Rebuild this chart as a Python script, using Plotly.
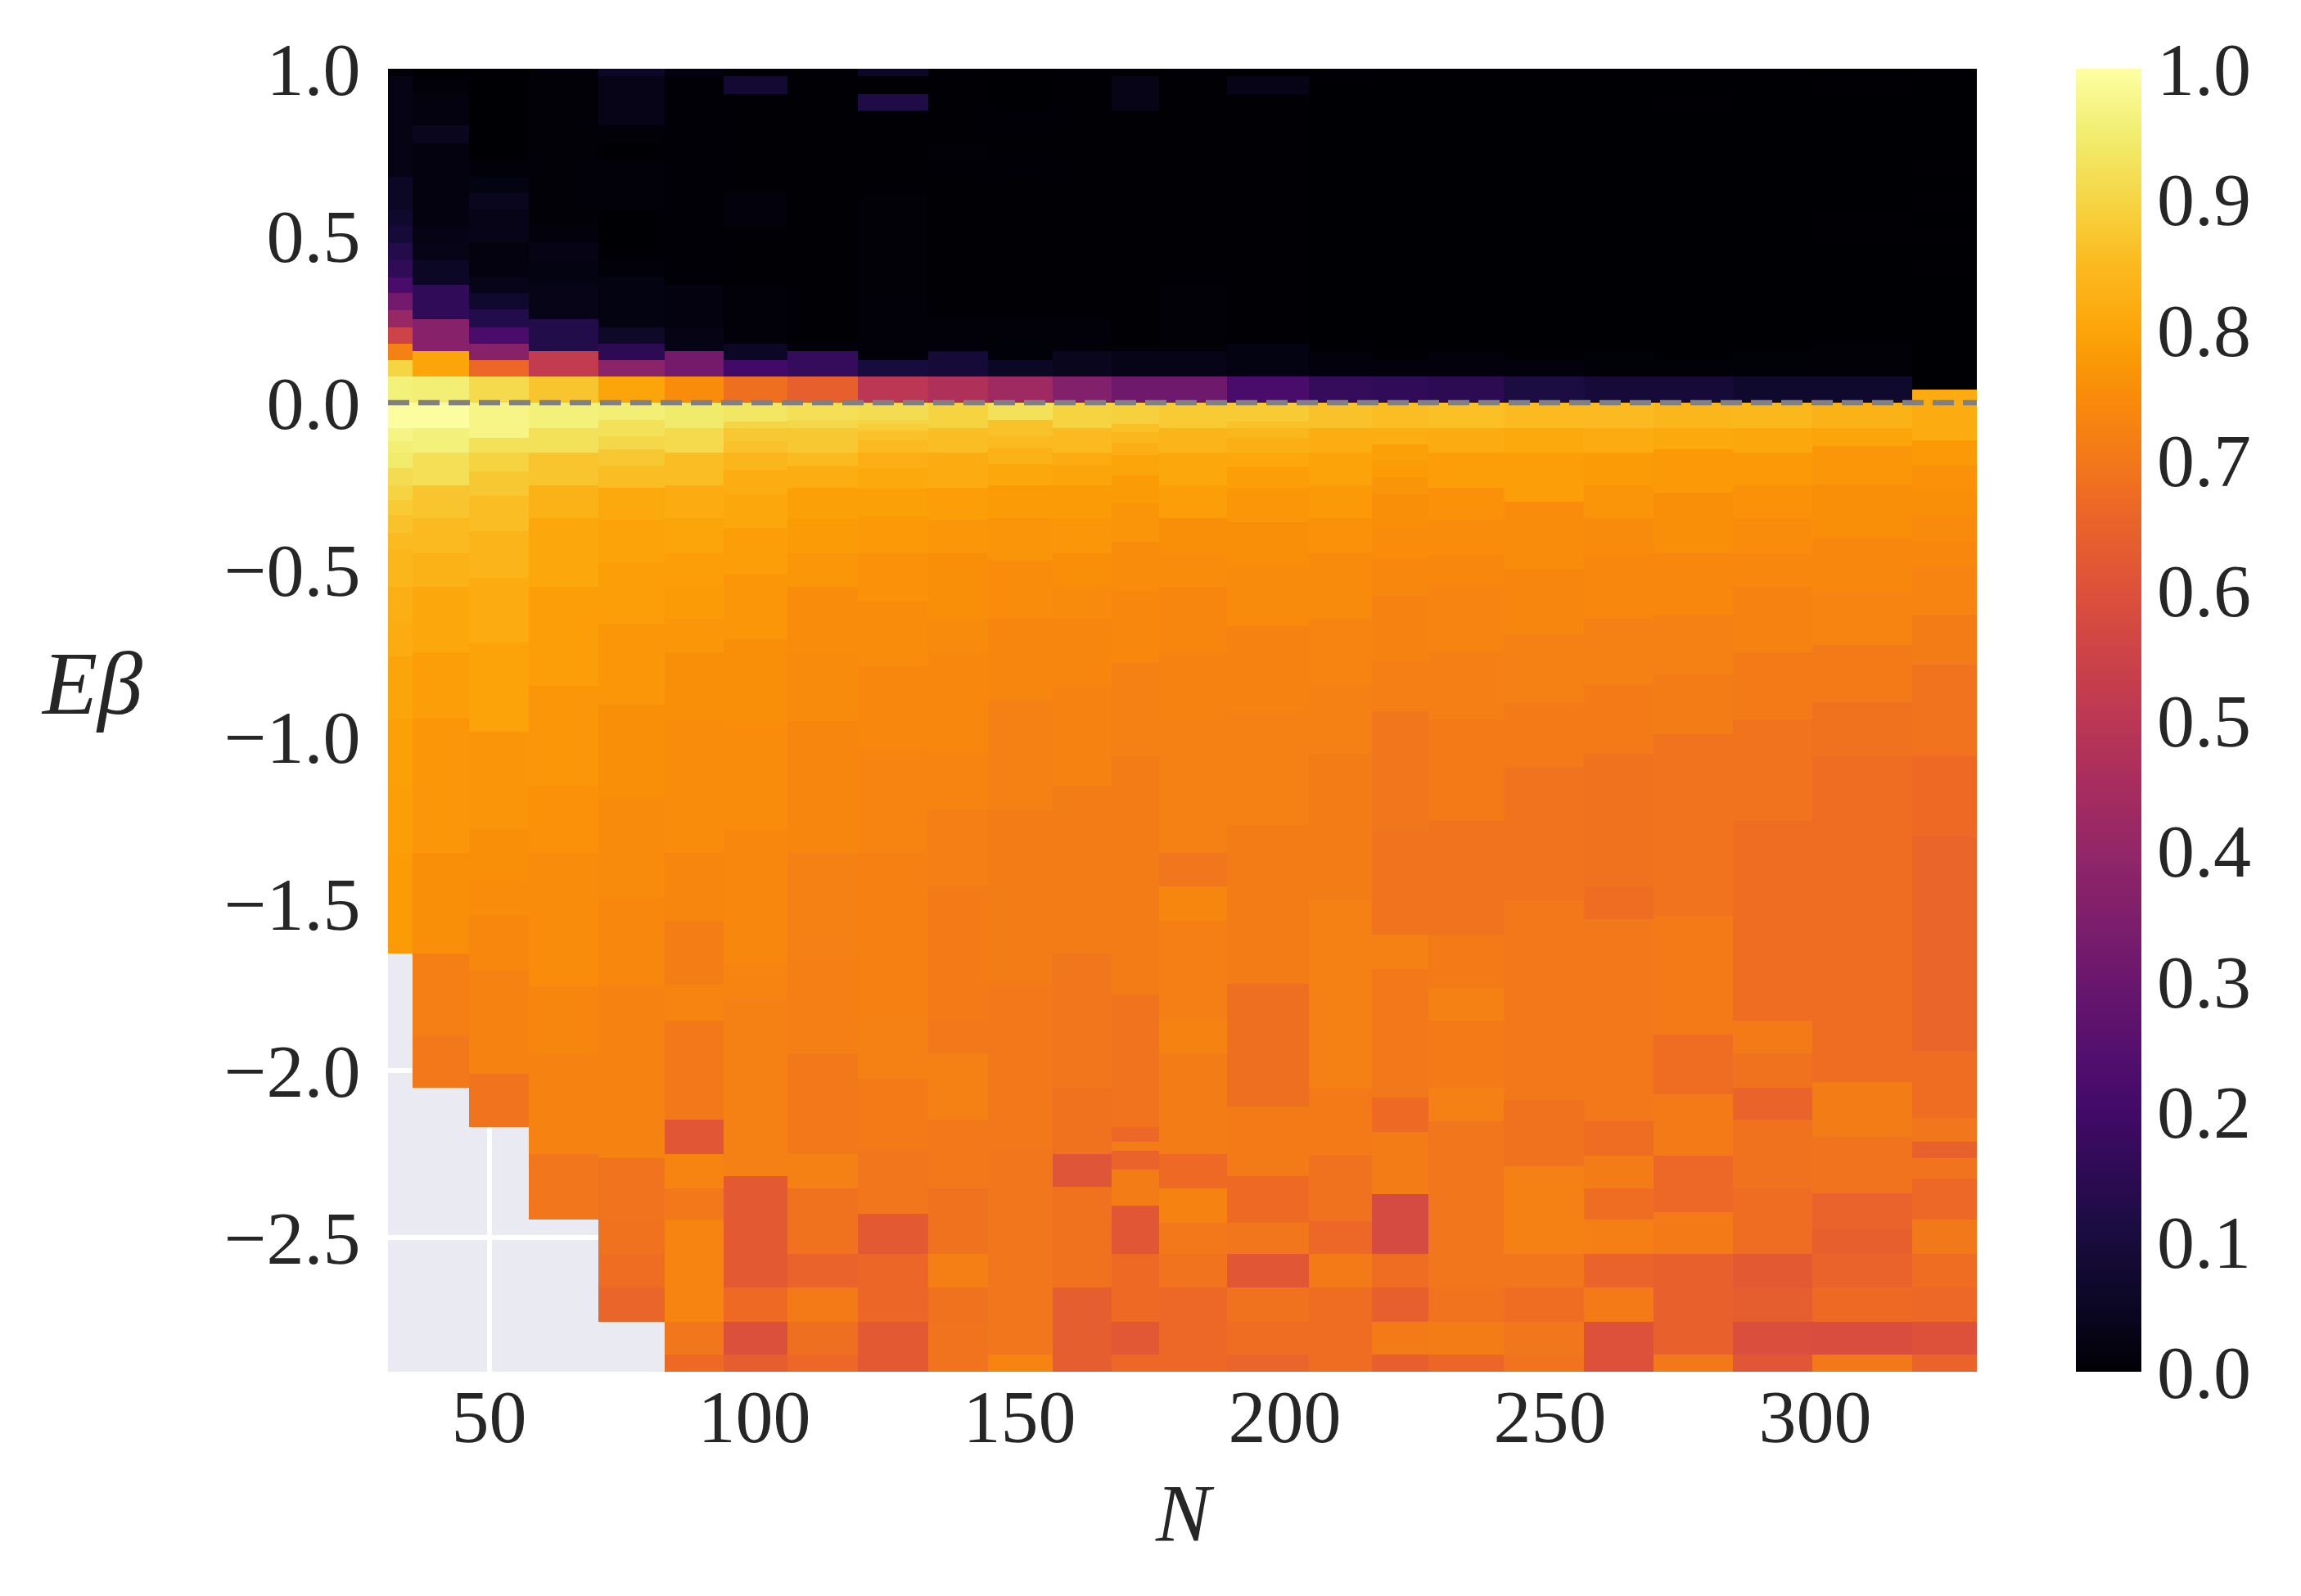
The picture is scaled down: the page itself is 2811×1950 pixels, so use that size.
'''
Heatmap of the normalised quantity against N and E*beta; each N bin has its own energy bins.
'''

import plotly.graph_objects as go

# Bin edges along N
n_edges = [30.93, 35.63, 46.2, 57.47, 70.59, 83.09, 94.2, 106.16, 119.5, 132.78, 144.12, 156.16, 167.27,
           176.3, 189.03, 204.54, 216.42, 227.07, 241.19, 256.39, 269.43, 284.48, 299.37, 318.27, 330.46]

# Energy bin edges for each N bin, top to bottom
e_edges = [
    [1,.978,.676,.578,.529,.477,.427,.375,.329,.278,.226,.177,.127,.079,0,-.076,-.115,-.15,-.197,-.249,-.293,-.337,-.389,-.442,-.552,-.66,-.761,-.946,-1.147,-1.348,-1.65],
    [1,.978,.925,.831,.778,.529,.48,.427,.353,.251,.153,.079,0,-.076,-.15,-.249,-.346,-.451,-.552,-.749,-.946,-1.348,-1.65,-1.899,-2.053],
    [1,.729,.676,.627,.578,.48,.378,.329,.28,.226,.177,.127,.079,0,-.105,-.15,-.205,-.28,-.385,-.525,-.718,-.985,-1.278,-1.436,-1.537,-1.702,-2.011,-2.171],
    [1,.529,.48,.427,.353,.251,.153,.079,0,-.076,-.15,-.249,-.346,-.552,-.849,-1.147,-1.348,-1.748,-1.95,-2.25,-2.448],
    [1,.978,.831,.778,.729,.578,.427,.378,.226,.177,.127,.079,0,-.051,-.101,-.139,-.188,-.254,-.35,-.481,-.661,-.906,-1.186,-1.48,-1.744,-2.264,-2.448,-2.551,-2.65,-2.753],
    [1,.978,.353,.226,.153,.079,0,-.076,-.15,-.249,-.346,-.451,-.552,-.648,-.749,-.95,-1.348,-1.551,-1.744,-1.852,-2.147,-2.25,-2.354,-2.448,-2.753,-2.851,-2.903],
    [1,.978,.925,.627,.529,.353,.177,.127,.079,0,-.056,-.076,-.115,-.15,-.201,-.276,-.376,-.516,-.709,-.972,-1.278,-1.683,-1.786,-2.316,-2.65,-2.753,-2.851,-2.903],
    [1,.177,.153,.079,0,-.051,-.076,-.15,-.19,-.254,-.346,-.451,-.552,-.749,-.954,-1.348,-1.65,-1.95,-2.25,-2.354,-2.551,-2.65,-2.753,-2.851,-2.903],
    [1,.978,.925,.876,.627,.275,.128,.079,0,-.051,-.064,-.084,-.113,-.15,-.197,-.258,-.341,-.451,-.595,-.788,-1.042,-1.348,-1.852,-2.025,-2.236,-2.429,-2.551,-2.753,-2.903],
    [1,.778,.729,.251,.153,.079,0,-.076,-.15,-.254,-.35,-.451,-.648,-.749,-1.051,-1.221,-1.449,-1.852,-1.95,-2.147,-2.354,-2.551,-2.65,-2.753,-2.903],
    [1,.876,.831,.729,.676,.251,.177,.127,.079,0,-.051,-.101,-.134,-.183,-.249,-.346,-.473,-.648,-.893,-1.221,-1.744,-2.232,-2.851,-2.903],
    [1,.251,.153,.079,0,-.076,-.15,-.19,-.249,-.346,-.451,-.552,-.648,-.845,-1.147,-1.65,-2.053,-2.25,-2.349,-2.65,-2.903],
    [1,.978,.876,.177,.153,.079,0,-.064,-.088,-.121,-.158,-.219,-.302,-.416,-.565,-.779,-1.06,-1.772,-2.171,-2.213,-2.241,-2.297,-2.406,-2.551,-2.753,-2.851,-2.903],
    [1,.353,.153,.079,0,-.076,-.15,-.249,-.346,-.451,-.552,-.749,-.95,-1.348,-1.449,-1.551,-1.852,-1.95,-2.25,-2.354,-2.458,-2.551,-2.65,-2.903],
    [1,.978,.925,.353,.177,.079,0,-.056,-.076,-.105,-.15,-.192,-.258,-.358,-.494,-.67,-.924,-1.265,-1.741,-2.109,-2.316,-2.458,-2.551,-2.65,-2.753,-2.851,-2.903],
    [1,.955,.153,.079,0,-.076,-.15,-.249,-.346,-.451,-.648,-.845,-1.051,-1.49,-2.053,-2.255,-2.452,-2.551,-2.65,-2.753,-2.903],
    [1,.153,.127,.079,0,-.076,-.125,-.175,-.223,-.276,-.376,-.468,-.578,-.775,-.924,-1.283,-1.593,-1.697,-2.082,-2.185,-2.372,-2.551,-2.65,-2.753,-2.851,-2.903],
    [1,.153,.079,0,-.076,-.15,-.254,-.35,-.455,-.552,-.749,-.95,-1.252,-1.593,-1.753,-1.852,-2.053,-2.152,-2.65,-2.753,-2.851,-2.903],
    [1,.153,.127,.079,0,-.076,-.15,-.297,-.499,-.696,-.897,-1.094,-1.49,-2.09,-2.288,-2.551,-2.65,-2.753,-2.851,-2.903],
    [1,.153,.079,0,-.076,-.15,-.249,-.346,-.451,-.648,-.845,-1.051,-1.449,-1.547,-2.152,-2.255,-2.354,-2.448,-2.551,-2.65,-2.753,-2.903],
    [1,.925,.876,.127,.079,0,-.076,-.141,-.271,-.451,-.635,-.814,-.994,-1.537,-1.894,-2.072,-2.255,-2.424,-2.551,-2.851,-2.903],
    [1,.153,.079,0,-.076,-.15,-.249,-.346,-.451,-.552,-.749,-.95,-1.252,-1.852,-1.95,-2.053,-2.147,-2.354,-2.551,-2.65,-2.753,-2.851,-2.903],
    [1,.978,.925,.578,.48,.177,.079,0,-.076,-.129,-.245,-.407,-.569,-.727,-.897,-1.059,-2.035,-2.199,-2.368,-2.476,-2.551,-2.65,-2.753,-2.851,-2.903],
    [1,.729,.676,.627,.578,.529,.48,.427,.378,.04,-.113,-.188,-.258,-.341,-.416,-.49,-.635,-.784,-1.059,-1.3,-1.941,-2.142,-2.213,-2.264,-2.325,-2.448,-2.551,-2.65,-2.753,-2.851,-2.903],
]

# Value in each of those bins, top to bottom
values = [
    [.005,.025,.05,.07,.09,.13,.16,.22,.32,.41,.55,.72,.90,.96,.995,.97,.955,.945,.915,.895,.88,.865,.85,.84,.825,.815,.80,.79,.785,.78],
    [0,.01,.015,.04,.015,.025,.03,.05,.16,.37,.80,.955,.995,.96,.92,.87,.85,.83,.805,.785,.77,.755,.715,.70],
    [0,.01,.02,.04,.03,.015,.03,.07,.13,.22,.37,.66,.91,.972,.925,.895,.875,.855,.835,.815,.795,.765,.755,.75,.738,.725,.69],
    [.005,.012,.025,.02,.03,.13,.52,.87,.96,.925,.87,.83,.805,.785,.77,.76,.75,.735,.725,.695],
    [.05,.03,.005,0,.008,0,.01,.02,.06,.15,.38,.80,.955,.925,.905,.875,.855,.81,.795,.785,.77,.755,.745,.74,.725,.69,.685,.675,.655],
    [.015,.003,.015,.025,.32,.75,.945,.91,.855,.815,.80,.785,.78,.77,.755,.75,.735,.712,.73,.70,.615,.73,.70,.73,.695,.67],
    [.005,.08,.002,.012,.002,.01,.05,.2,.68,.935,.9,.875,.865,.84,.82,.805,.785,.77,.755,.75,.74,.73,.72,.625,.67,.595,.635],
    [.002,.012,.17,.64,.92,.905,.875,.85,.82,.79,.78,.77,.75,.745,.735,.72,.715,.70,.72,.685,.65,.705,.68,.665],
    [.05,.002,.12,.002,.004,.01,.1,.5,.915,.9,.885,.865,.85,.825,.81,.79,.775,.76,.75,.74,.73,.722,.72,.705,.695,.625,.66,.625],
    [.002,.005,.001,.01,.09,.47,.895,.855,.815,.785,.77,.755,.745,.74,.73,.715,.705,.70,.72,.70,.685,.715,.685,.69],
    [0,.003,.001,.003,.001,.008,.006,.05,.43,.925,.865,.85,.83,.805,.78,.765,.75,.735,.72,.71,.70,.695,.73],
    [.001,.008,.04,.36,.895,.85,.815,.80,.78,.77,.755,.745,.735,.725,.71,.695,.685,.61,.685,.635],
    [.001,.03,.001,.004,.03,.31,.89,.86,.845,.825,.80,.78,.765,.75,.74,.72,.71,.69,.665,.71,.65,.71,.615,.67,.62,.665],
    [.001,.004,.03,.31,.88,.835,.805,.785,.755,.75,.735,.725,.72,.695,.735,.715,.725,.71,.67,.725,.70,.69,.665],
    [0,.03,.001,.002,.02,.22,.88,.865,.845,.825,.805,.785,.77,.755,.745,.725,.72,.71,.68,.705,.67,.695,.615,.685,.675,.655],
    [.002,.0005,.012,.17,.865,.82,.795,.775,.76,.745,.73,.72,.71,.72,.705,.685,.665,.705,.675,.675],
    [.0005,.002,.012,.16,.855,.82,.79,.78,.765,.755,.75,.74,.725,.715,.695,.69,.72,.70,.67,.71,.575,.675,.64,.705,.64],
    [.0005,.012,.15,.86,.815,.785,.76,.75,.74,.73,.715,.705,.69,.705,.72,.705,.72,.695,.69,.71,.66],
    [.0005,.002,.012,.11,.85,.81,.785,.75,.735,.72,.705,.69,.70,.685,.72,.695,.675,.695,.69],
    [.0003,.006,.09,.85,.815,.78,.765,.745,.74,.72,.705,.685,.675,.70,.675,.71,.675,.715,.65,.705,.60],
    [.0003,.002,.0003,.006,.09,.84,.81,.775,.755,.74,.72,.71,.69,.705,.675,.705,.665,.705,.645,.70],
    [.0003,.006,.07,.845,.805,.775,.76,.75,.74,.725,.705,.69,.675,.705,.685,.65,.685,.675,.625,.635,.59,.615],
    [.0003,.002,.0003,.002,.0003,.005,.07,.83,.80,.77,.755,.74,.73,.705,.685,.675,.71,.69,.65,.64,.65,.67,.585,.70],
    [.0003,.002,.0003,.001,.0003,.002,.0003,.001,.0003,.815,.775,.76,.755,.745,.74,.73,.71,.69,.67,.655,.675,.695,.645,.69,.665,.70,.675,.665,.60,.65],
]

n_ticks = [50, 100, 150, 200, 250, 300]
e_ticks = [1.0, 0.5, 0.0, -0.5, -1.0, -1.5, -2.0, -2.5]
e_labels = ['1.0', '0.5', '0.0', '\u22120.5', '\u22121.0', '\u22121.5', '\u22122.0', '\u22122.5']
cbar_ticks = [0.0, 0.1, 0.2, 0.3, 0.4, 0.5, 0.6, 0.7, 0.8, 0.9, 1.0]
cbar_labels = ['0.0', '0.1', '0.2', '0.3', '0.4', '0.5', '0.6', '0.7', '0.8', '0.9', '1.0']
e_limits = [-2.903, 1.0]

# Inferno
inferno = [[0.0, '#000004'], [0.05, '#0b0724'], [0.111, '#1b0c42'], [0.2, '#420a68'], [0.25, '#56106e'],
           [0.333, '#781c6d'], [0.4, '#932667'], [0.444, '#a52c60'], [0.5, '#bb3754'], [0.556, '#cf4446'],
           [0.6, '#dd513a'], [0.667, '#ed6925'], [0.7, '#f37819'], [0.75, '#f98c0a'], [0.778, '#fb9a06'],
           [0.8, '#fca50a'], [0.85, '#fbba1f'], [0.889, '#f7d03c'], [0.95, '#f1ed6f'], [1.0, '#fcffa4']]

text_font = dict(family='Liberation Serif', size=92, color='#262626')

# Page body has an 8px margin, so figure pixels sit 8px up and left of page pixels
offset = 8
width, height = 2811 - 2*offset, 1950 - 2*offset
left, right, top, bottom = 474 - offset, 2415 - offset, 84 - offset, 1676 - offset


def px_x(px):
    return (px - offset - left)/(right - left)


def px_y(px):
    return (bottom - (px - offset))/(bottom - top)


# Common energy grid: all the column edges merged, so it is one mesh without seams between columns
grid = sorted({e for col in e_edges for e in col})
mids = [(a + b)/2 for a, b in zip(grid[:-1], grid[1:])]
z = []
for mid in mids:
    row = []
    for edges, vals in zip(e_edges, values):
        if len(edges) != len(vals) + 1:
            raise ValueError(f'{len(edges)} edges, {len(vals)} values')
        cell = None
        for i, v in enumerate(vals):
            if edges[i] >= mid > edges[i+1]:
                cell = v
                break
        row.append(cell)
    z.append(row)

fig = go.Figure()
fig.add_trace(go.Heatmap(x=n_edges, y=grid, z=z, coloraxis='coloraxis', hoverongaps=False))

fig.add_trace(go.Scatter(x=[n_edges[0], n_edges[-1]], y=[0, 0], mode='lines', showlegend=False,
                         line=dict(color='#808080', width=6.5, dash='26px,11px')))

fig.update_layout(
    width=width, height=height, autosize=False,
    margin=dict(l=left, r=width-right, t=top, b=height-bottom, pad=0),
    paper_bgcolor='white', plot_bgcolor='#eaeaf2', font=text_font, showlegend=False,
    coloraxis=dict(
        colorscale=inferno, cmin=0, cmax=1,
        colorbar=dict(x=px_x(2536), xanchor='left', y=0, yanchor='bottom', len=1, lenmode='fraction',
                      thickness=80, thicknessmode='pixels', xpad=0, ypad=0, outlinewidth=0,
                      tickmode='array', tickvals=cbar_ticks, ticktext=cbar_labels, tickfont=text_font,
                      ticks='', ticklen=0),
    ),
    xaxis=dict(range=[n_edges[0], n_edges[-1]], tickmode='array', tickvals=n_ticks, tickfont=text_font,
               showgrid=True, gridcolor='white', gridwidth=5.5, zeroline=False, showline=False,
               ticks='', ticklabelstandoff=-7),
    yaxis=dict(range=e_limits, tickmode='array', tickvals=e_ticks, ticktext=e_labels, tickfont=text_font,
               showgrid=True, gridcolor='white', gridwidth=5.5, zeroline=False, showline=False,
               ticks='outside', ticklen=14, tickcolor='rgba(0,0,0,0)'),
    annotations=[
        dict(text='<i>N</i>', xref='paper', yref='paper', x=px_x(1447), y=px_y(1848),
             showarrow=False, xanchor='center', yanchor='middle', font=dict(family='Liberation Serif', size=100, color='#262626')),
        dict(text='<i>E\u03b2</i>', xref='paper', yref='paper', x=px_x(112), y=px_y(835),
             showarrow=False, xanchor='center', yanchor='middle', font=dict(family='Liberation Serif', size=110, color='#262626')),
    ],
)

fig.write_html("out.html")
